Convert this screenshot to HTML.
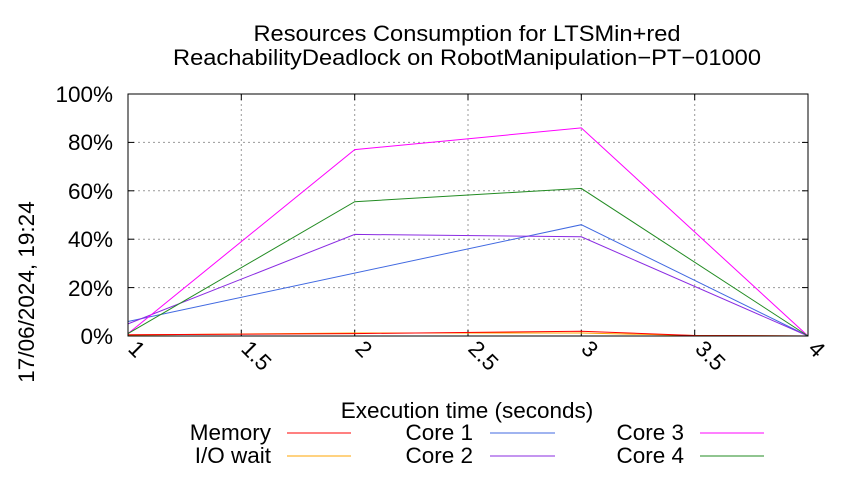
<!DOCTYPE html>
<html><head><meta charset="utf-8"><style>
body{margin:0;background:#fff}
svg text{font-family:"Liberation Sans",sans-serif;fill:#000}
</style></head><body>
<svg width="850" height="475" viewBox="0 0 850 475" xmlns="http://www.w3.org/2000/svg">
<rect width="850" height="475" fill="#fff"/>
<g font-size="22.5" text-anchor="middle">
<text x="467" y="41" textLength="427" lengthAdjust="spacingAndGlyphs">Resources Consumption for LTSMin+red</text>
<text x="467" y="65" textLength="588" lengthAdjust="spacingAndGlyphs">ReachabilityDeadlock on RobotManipulation−PT−01000</text>
</g>
<g stroke="#999" stroke-dasharray="2,3" stroke-width="1">
<line x1="128" y1="94" x2="808" y2="94"/><line x1="128" y1="142.4" x2="808" y2="142.4"/>
<line x1="128" y1="190.8" x2="808" y2="190.8"/><line x1="128" y1="239.2" x2="808" y2="239.2"/>
<line x1="128" y1="287.6" x2="808" y2="287.6"/>
<line x1="241.3" y1="94" x2="241.3" y2="336"/><line x1="354.7" y1="94" x2="354.7" y2="336"/>
<line x1="468" y1="94" x2="468" y2="336"/><line x1="581.3" y1="94" x2="581.3" y2="336"/>
<line x1="694.7" y1="94" x2="694.7" y2="336"/>
</g>
<g stroke="#000" stroke-width="1">
<line x1="128" y1="94" x2="134" y2="94"/><line x1="128" y1="142.4" x2="134" y2="142.4"/><line x1="128" y1="190.8" x2="134" y2="190.8"/><line x1="128" y1="239.2" x2="134" y2="239.2"/><line x1="128" y1="287.6" x2="134" y2="287.6"/>
<line x1="808" y1="94" x2="802" y2="94"/><line x1="808" y1="142.4" x2="802" y2="142.4"/><line x1="808" y1="190.8" x2="802" y2="190.8"/><line x1="808" y1="239.2" x2="802" y2="239.2"/><line x1="808" y1="287.6" x2="802" y2="287.6"/>
<line x1="241.3" y1="336" x2="241.3" y2="330"/><line x1="354.7" y1="336" x2="354.7" y2="330"/><line x1="468" y1="336" x2="468" y2="330"/><line x1="581.3" y1="336" x2="581.3" y2="330"/><line x1="694.7" y1="336" x2="694.7" y2="330"/>
<line x1="241.3" y1="94" x2="241.3" y2="100"/><line x1="354.7" y1="94" x2="354.7" y2="100"/><line x1="468" y1="94" x2="468" y2="100"/><line x1="581.3" y1="94" x2="581.3" y2="100"/><line x1="694.7" y1="94" x2="694.7" y2="100"/>
</g>
<g font-size="22.5" text-anchor="end">
<text x="113" y="102">100%</text><text x="113" y="150">80%</text><text x="113" y="199">60%</text>
<text x="113" y="247">40%</text><text x="113" y="296">20%</text><text x="113" y="344">0%</text>
</g>
<g font-size="22.5">
<text transform="translate(127,350) rotate(45)">1</text>
<text transform="translate(240,350) rotate(45)">1.5</text>
<text transform="translate(354,350) rotate(45)">2</text>
<text transform="translate(467,350) rotate(45)">2.5</text>
<text transform="translate(580,350) rotate(45)">3</text>
<text transform="translate(694,350) rotate(45)">3.5</text>
<text transform="translate(807,350) rotate(45)">4</text>
</g>
<text x="467" y="418" font-size="22.5" text-anchor="middle">Execution time (seconds)</text>
<text transform="translate(34,292) rotate(-90)" font-size="22.5" text-anchor="middle">17/06/2024, 19:24</text>
<g fill="none" stroke-width="1">
<polyline stroke="#ffa500" points="128,335 354.7,333 581.3,333 694.7,335.5 808,336"/>
<polyline stroke="#ff0000" points="128,334.8 354.7,333.6 581.3,331.2 694.7,335.5 808,336"/>
<polyline stroke="#4169e1" points="128,321.5 581.3,224.7 808,336"/>
<polyline stroke="#8a2be2" points="128,323.9 354.7,234.4 581.3,236.8 808,336"/>
<polyline stroke="#ff00ff" points="128,333.6 354.7,149.6 581.3,127.9 808,336"/>
<polyline stroke="#228b22" points="128,333.6 354.7,201.7 581.3,188.4 808,336"/>
</g>
<rect x="128" y="94" width="680" height="242" fill="none" stroke="#000" stroke-width="1"/>
<g font-size="22.5" text-anchor="end">
<text x="271" y="440">Memory</text><text x="271" y="463">I/O wait</text>
<text x="473" y="440">Core 1</text><text x="473" y="463">Core 2</text>
<text x="684" y="440">Core 3</text><text x="684" y="463">Core 4</text>
</g>
<g stroke-width="1">
<line x1="287" y1="433" x2="351" y2="433" stroke="#ff0000"/>
<line x1="287" y1="456" x2="351" y2="456" stroke="#ffa500"/>
<line x1="490" y1="433" x2="555" y2="433" stroke="#4169e1"/>
<line x1="490" y1="456" x2="555" y2="456" stroke="#8a2be2"/>
<line x1="700" y1="433" x2="764" y2="433" stroke="#ff00ff"/>
<line x1="700" y1="456" x2="764" y2="456" stroke="#228b22"/>
</g>
</svg>
</body></html>
